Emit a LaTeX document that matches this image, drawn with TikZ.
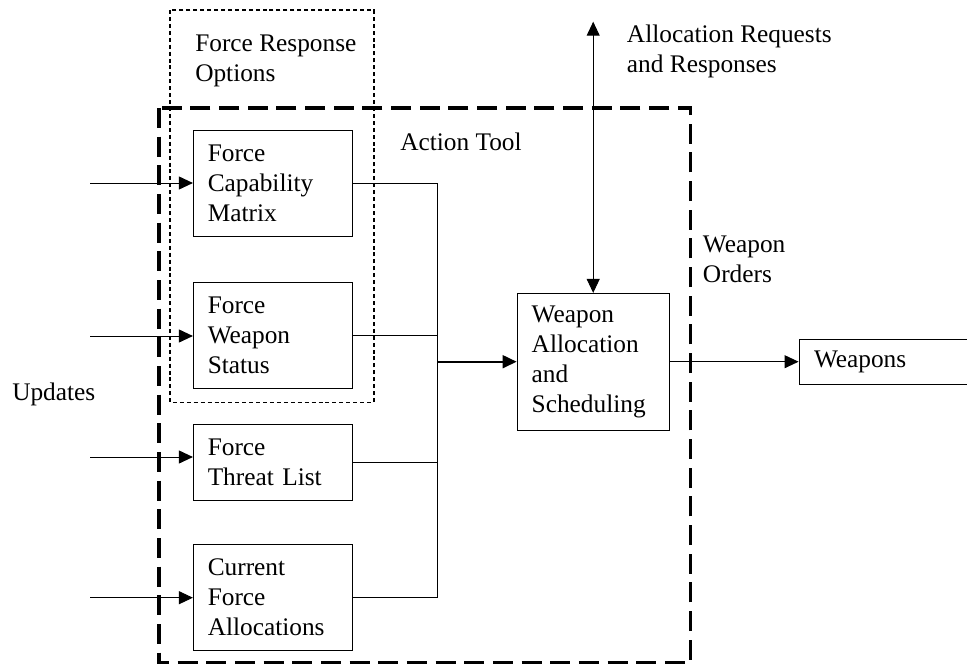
\documentclass[tikz,border=0pt]{standalone}
\usepackage{fontspec}
\setmainfont{Liberation Serif}
\usetikzlibrary{arrows.meta,positioning}

\tikzset{
  >={Triangle[length=10.5pt,width=9.75pt]},
  block/.style={draw, line width=0.7pt, rectangle, align=left, inner xsep=10.8pt, inner ysep=0pt, text width=97.4pt, minimum width=119pt},
  flow/.style={->, line width=0.7pt},
  link/.style={line width=0.7pt},
  toolbox/.style={line width=2.3pt, dash pattern=on 15pt off 6.5pt},
  optbox/.style={line width=1.2pt, dash pattern=on 3pt off 2.2pt},
  lbl/.style={align=left, anchor=west, inner sep=0pt},
}

\begin{document}
\begin{tikzpicture}[x=0.75pt,y=0.75pt,yscale=-1,xscale=1, font=\fontsize{19}{22.5}\selectfont]
\clip (0,0) rectangle (967,664);

%Shape: Rectangle [force response options]
\draw[optbox] (170,10) rectangle (373.7,402.3);
%Shape: Rectangle [action tool]
\draw[toolbox] (159,108) rectangle (690.7,662.7);

%Blocks
\node[block, minimum height=79.5pt] (fcm) at (272.7,183) {Force\\Capability\\Matrix};
\node[block, minimum height=79.2pt] (fws) at (272.7,335.5) {Force\\Weapon\\Status};
\node[block, minimum height=56.5pt] (ftl) at (272.7,462.3) {Force\\Threat List};
\node[block, minimum height=79.3pt] (cfa) at (272.7,597.2) {Current\\Force\\Allocations};
\node[block, text width=92.2pt, minimum width=114.2pt, inner xsep=11pt, minimum height=102.5pt] (was) at (593.2,361.7) {Weapon\\Allocation\\and\\Scheduling};
\node[block, text width=109.5pt, minimum width=132pt, inner xsep=11.25pt, minimum height=33.5pt] (wpn) at (887,361.7) {Weapons};

% Text Node
\node[lbl] (optlbl) at (195,61) {Force Response\\Options};
% Text Node
\node[lbl] (toollbl) at (400,142) {Action Tool};
% Text Node
\node[lbl] (reqlbl) at (626.7,51) {Allocation Requests\\and Responses};
% Text Node
\node[lbl] (ordlbl) at (702.7,259) {Weapon\\Orders};
% Text Node
\node[lbl] (updlbl) at (12,394) {Updates};

%Free ends
\coordinate (in1) at (90,183);
\coordinate (in2) at (90,336);
\coordinate (in3) at (90,457);
\coordinate (in4) at (90,597.7);
\coordinate (bus) at (437.3,361.7);
\coordinate (ext) at (593.2,21.7);

%Straight Lines [inputs]
\draw[flow] (in1) -- (in1 -| fcm.west);
\draw[flow] (in2) -- (in2 -| fws.west);
\draw[flow] (in3) -- (in3 -| ftl.west);
\draw[flow] (in4) -- (in4 -| cfa.west);

%Straight Lines [bus]
\draw[link] (fcm.east) -| (bus |- cfa.east) -- (cfa.east);
\draw[link] (fws.east) -- (fws.east -| bus);
\draw[link] (ftl.east) -- (ftl.east -| bus);
\draw[flow, line width=1.3pt] (bus) -- (was.west);

%Straight Lines [requests, orders]
\draw[<->, line width=0.7pt] (ext) -- (was.north);
\draw[flow] (was.east) -- (wpn.west);
\end{tikzpicture}
\end{document}
